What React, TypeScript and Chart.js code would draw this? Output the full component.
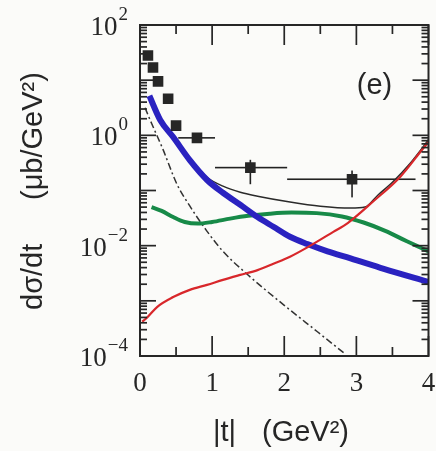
import { useEffect, useRef } from "react";
import { Chart, registerables } from "chart.js";

Chart.register(...registerables);

// Measured cross sections (squares) with their bin / error ranges
const tPoints = [0.11, 0.18, 0.25, 0.39, 0.5, 0.79, 1.53, 2.94];
const sigmaPoints = [28, 17, 9.5, 4.6, 1.5, 0.9, 0.26, 0.16];
const tLow = [0.11, 0.18, 0.25, 0.39, 0.5, 0.53, 1.04, 2.04];
const tHigh = [0.11, 0.18, 0.25, 0.39, 0.5, 1.04, 2.04, 3.82];
const sigmaLow = [28, 17, 9.5, 4.6, 1.5, 0.78, 0.13, 0.075];
const sigmaHigh = [28, 17, 9.5, 4.6, 1.5, 1.03, 0.36, 0.23];

// Model curves
const tBlue = [0.13, 0.28, 0.46, 0.69, 0.93, 1.15, 1.39, 1.63, 1.85, 2.08, 2.32, 2.6, 2.92, 3.38, 4.0];
const blueCurve = [5.2, 1.9, 0.93, 0.355, 0.155, 0.091, 0.055, 0.033, 0.022, 0.0145, 0.0107, 0.0079, 0.0059, 0.0038, 0.0022];

const tGreen = [0.16, 0.3, 0.46, 0.62, 0.8, 1.0, 1.25, 1.5, 1.8, 2.1, 2.45, 2.8, 3.1, 3.4, 3.7, 4.0];
const greenCurve = [0.05, 0.0427, 0.0331, 0.0269, 0.0251, 0.0269, 0.0309, 0.0347, 0.038, 0.0398, 0.0389, 0.0339, 0.0263, 0.0186, 0.012, 0.0079];

const tRed = [0.03, 0.1, 0.24, 0.46, 0.69, 0.93, 1.15, 1.39, 1.63, 1.85, 2.08, 2.32, 2.68, 2.88, 3.24, 3.61, 3.93, 4.0];
const redCurve = [0.00042, 0.0005, 0.00078, 0.00117, 0.00158, 0.00195, 0.0024, 0.00295, 0.0036, 0.0047, 0.0063, 0.0093, 0.0178, 0.0257, 0.0646, 0.178, 0.589, 0.76];

const tTotal = [0.46, 0.69, 0.93, 1.15, 1.39, 1.63, 2.08, 2.5, 2.92, 3.12, 3.3, 3.5, 3.75, 4.0];
const totalCurve = [0.977, 0.38, 0.174, 0.12, 0.093, 0.079, 0.062, 0.052, 0.048, 0.05, 0.083, 0.141, 0.316, 0.83];

const tDashDot = [0.07, 0.14, 0.32, 0.51, 0.69, 0.93, 1.15, 1.49, 2.0, 2.46, 2.84];
const dashDotCurve = [3.16, 1.9, 0.55, 0.132, 0.0525, 0.0182, 0.0079, 0.003, 0.00083, 0.000275, 0.00011];

// Axis ticks and labels
const xMajorTicks = [0, 1, 2, 3, 4];
const xTickLabels = ["0", "1", "2", "3", "4"];
const xMinorTicks = [0.5, 1.5, 2.5, 3.5];
const yDecades = [-4, -3, -2, -1, 0, 1, 2];
const yLabelExponents = [2, 0, -2, -4];
const yLabelTexts = ["2", "0", "\u22122", "\u22124"];
const panelLabel = "(e)";

const ink = "#262626";
const serif = "'Liberation Serif', 'DejaVu Serif', serif";
const sans = "'Liberation Sans', Arial, sans-serif";

const pairs = (xs: number[], ys: number[]) => xs.map((x, i) => ({ x, y: ys[i] }));

const framePlugin = {
  id: "frame",
  beforeDraw(chart: any) {
    const { ctx, width, height } = chart;
    ctx.save();
    ctx.fillStyle = "#fbfbf9";
    ctx.fillRect(0, 0, width, height);
    ctx.restore();
  },
  beforeDatasetsDraw(chart: any) {
    const ctx = chart.ctx as CanvasRenderingContext2D;
    const xs = chart.scales.x;
    const ys = chart.scales.y;
    ctx.save();
    ctx.fillStyle = "#222";
    // horizontal bin widths and vertical error bars
    tPoints.forEach((t, i) => {
      const px = xs.getPixelForValue(t);
      const py = ys.getPixelForValue(sigmaPoints[i]);
      if (tLow[i] !== tHigh[i]) {
        const x1 = xs.getPixelForValue(tLow[i]);
        const x2 = xs.getPixelForValue(tHigh[i]);
        ctx.fillRect(x1, py - 0.8, x2 - x1, 1.6);
      }
      if (sigmaLow[i] !== sigmaHigh[i]) {
        const y1 = ys.getPixelForValue(sigmaHigh[i]);
        const y2 = ys.getPixelForValue(sigmaLow[i]);
        ctx.fillRect(px - 0.8, y1, 1.6, y2 - y1);
      }
    });
    ctx.restore();
  },
  afterDraw(chart: any) {
    const ctx = chart.ctx as CanvasRenderingContext2D;
    const a = chart.chartArea;
    const xs = chart.scales.x;
    const ys = chart.scales.y;
    ctx.save();
    ctx.fillStyle = ink;
    ctx.strokeStyle = ink;

    // tick marks pointing inwards on all four sides
    const w = 1.7;
    const vTick = (px: number, len: number) => {
      ctx.fillRect(px - w / 2, a.bottom - len, w, len);
      ctx.fillRect(px - w / 2, a.top, w, len);
    };
    const hTick = (py: number, len: number) => {
      ctx.fillRect(a.left, py - w / 2, len, w);
      ctx.fillRect(a.right - len, py - w / 2, len, w);
    };
    xMajorTicks.forEach((t) => vTick(xs.getPixelForValue(t), 20));
    xMinorTicks.forEach((t) => vTick(xs.getPixelForValue(t), 9));
    yDecades.forEach((e) => {
      hTick(ys.getPixelForValue(Math.pow(10, e)), 16);
      if (e < 2) {
        for (let m = 2; m <= 9; m++) hTick(ys.getPixelForValue(m * Math.pow(10, e)), 7);
      }
    });

    // frame
    ctx.lineWidth = 2;
    ctx.strokeRect(a.left, a.top, a.right - a.left, a.bottom - a.top);

    // x tick labels
    ctx.font = `27px ${serif}`;
    ctx.textAlign = "center";
    ctx.textBaseline = "middle";
    xMajorTicks.forEach((t, i) => {
      ctx.fillText(xTickLabels[i], xs.getPixelForValue(t), a.bottom + 28);
    });

    // y tick labels: 10 with a raised exponent
    yLabelExponents.forEach((e, i) => {
      const py = ys.getPixelForValue(Math.pow(10, e));
      const right = a.left - 12;
      ctx.font = `19px ${serif}`;
      ctx.textAlign = "right";
      ctx.textBaseline = "middle";
      const ew = ctx.measureText(yLabelTexts[i]).width;
      ctx.fillText(yLabelTexts[i], right, py - 10);
      ctx.font = `27px ${serif}`;
      ctx.fillText("10", right - ew - 1, py + 3);
    });

    // axis titles
    ctx.font = `29px ${sans}`;
    ctx.textAlign = "left";
    ctx.textBaseline = "middle";
    ctx.fillText("|t|", a.left + 73, a.bottom + 77);
    ctx.fillText("(GeV\u00b2)", a.left + 122, a.bottom + 77);

    ctx.save();
    ctx.translate(34, a.bottom - 46);
    ctx.rotate(-Math.PI / 2);
    ctx.fillText("d\u03c3/dt", 0, 0);
    ctx.fillText("(\u03bcb/GeV\u00b2)", 110, 0);
    ctx.restore();

    // panel label
    ctx.textAlign = "center";
    ctx.fillText(panelLabel, a.right - 54, a.top + 61);
    ctx.restore();
  },
};

export default function App() {
  const canvasRef = useRef<HTMLCanvasElement>(null);

  useEffect(() => {
    const chart = new Chart(canvasRef.current as HTMLCanvasElement, {
      type: "scatter",
      data: {
        datasets: [
          {
            label: "data",
            data: pairs(tPoints, sigmaPoints),
            showLine: false,
            pointStyle: "rect",
            pointRadius: 7.5,
            backgroundColor: "#262626",
            borderColor: "#262626",
            borderWidth: 0,
          },
          {
            label: "red",
            data: pairs(tRed, redCurve),
            showLine: true,
            pointRadius: 0,
            borderColor: "#d8272b",
            borderWidth: 2.2,
            cubicInterpolationMode: "monotone",
          },
          {
            label: "blue",
            data: pairs(tBlue, blueCurve),
            showLine: true,
            pointRadius: 0,
            borderColor: "#2a22c0",
            borderWidth: 6,
            cubicInterpolationMode: "monotone",
          },
          {
            label: "green",
            data: pairs(tGreen, greenCurve),
            showLine: true,
            pointRadius: 0,
            borderColor: "#178a48",
            borderWidth: 4,
            cubicInterpolationMode: "monotone",
          },
          {
            label: "total",
            data: pairs(tTotal, totalCurve),
            showLine: true,
            pointRadius: 0,
            borderColor: "#2a2a2a",
            borderWidth: 1.5,
            cubicInterpolationMode: "monotone",
          },
          {
            label: "dash-dot",
            data: pairs(tDashDot, dashDotCurve),
            showLine: true,
            pointRadius: 0,
            borderColor: "#333",
            borderWidth: 1.5,
            borderDash: [7, 3, 2, 3],
            cubicInterpolationMode: "monotone",
          },
        ],
      },
      options: {
        responsive: false,
        animation: false,
        devicePixelRatio: 1,
        layout: { padding: { left: 140, top: 25, right: 6, bottom: 95 } },
        plugins: { legend: { display: false }, tooltip: { enabled: false } },
        scales: {
          x: { type: "linear", min: 0, max: 4, display: false },
          y: { type: "logarithmic", min: 1e-4, max: 100, display: false },
        },
      },
      plugins: [framePlugin],
    });
    return () => chart.destroy();
  }, []);

  return (
    <div style={{ position: "absolute", left: 0, top: 0, width: 436, height: 451 }}>
      <canvas ref={canvasRef} width={436} height={451} />
    </div>
  );
}
